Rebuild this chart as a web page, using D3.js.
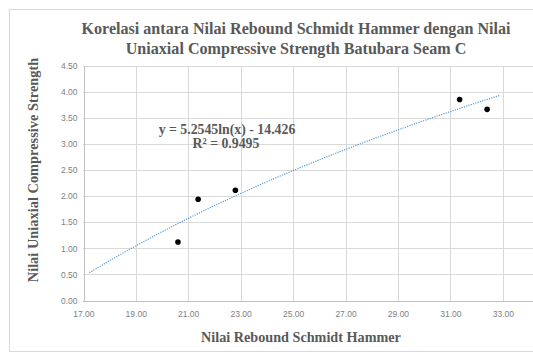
<!DOCTYPE html>
<html lang="en">
<head>
    <meta charset="UTF-8">
    <title>Korelasi Rebound Schmidt Hammer - UCS</title>
    <script src="https://d3js.org/d3.v7.min.js"></script>
</head>
<style>
    body { margin: 0; background: #fff; }
    .grid line { stroke: #d9d9d9; stroke-width: 1px; shape-rendering: crispEdges; }
    .axis path, .axis line { stroke: #bfbfbf; shape-rendering: crispEdges; }
    .axis text { font-family: "Liberation Sans", Arial, sans-serif; font-size: 8.5px; fill: #7f7f7f; }
    .title, .label, .eq { font-family: "Liberation Serif", "Times New Roman", serif; font-weight: bold; fill: #595959; }
    .trend { fill: none; stroke: #5b9bd5; stroke-width: 1.2px; stroke-dasharray: 1.2 1.2; }
</style>
<body>
    <svg id="chart"></svg>
    <script>
        // values
        var reboundValues = [20.61, 21.38, 22.80, 31.35, 32.40];
        var ucsValues = [1.12, 1.94, 2.11, 3.85, 3.66];
        var xTicks = [17, 19, 21, 23, 25, 27, 29, 31, 33];
        var yTicks = [0, 0.5, 1, 1.5, 2, 2.5, 3, 3.5, 4, 4.5];
        // logarithmic trendline as printed on the chart
        var trendCoef = [5.2545, -14.426];
        var trendRange = [17.23, 32.88];
        var titleLines = ["Korelasi antara Nilai Rebound Schmidt Hammer dengan Nilai",
                          "Uniaxial Compressive Strength Batubara Seam C"];

        var W = 533, H = 363;
        var svg = d3.select("#chart").attr("width", W).attr("height", H);

        // outer chart border (the right side is cropped in the original)
        svg.append("rect")
            .attr("x", 9.5).attr("y", 9.5)
            .attr("width", W).attr("height", 342)
            .attr("fill", "none").attr("stroke", "#d9d9d9");

        var x = d3.scaleLinear().domain([17, 35]).range([83.3, 555.3]);
        var y = d3.scaleLinear().domain([0, 4.5]).range([300.5, 65.5]);

        // gridlines
        var grid = svg.append("g").attr("class", "grid");
        grid.selectAll(".h").data(yTicks.slice(1)).enter().append("line")
            .attr("x1", x(17)).attr("x2", W)
            .attr("y1", function(d) { return Math.round(y(d)) + 0.5; })
            .attr("y2", function(d) { return Math.round(y(d)) + 0.5; });
        grid.selectAll(".v").data(xTicks.slice(1).concat([35])).enter().append("line")
            .attr("y1", y(4.5)).attr("y2", y(0))
            .attr("x1", function(d) { return Math.round(x(d)) + 0.5; })
            .attr("x2", function(d) { return Math.round(x(d)) + 0.5; });

        // axes
        svg.append("g").attr("class", "axis")
            .attr("transform", "translate(0," + (Math.round(y(0)) + 0.5) + ")")
            .call(d3.axisBottom(x).tickValues(xTicks).tickSize(0).tickPadding(9)
                .tickFormat(d3.format(".2f")))
            .call(function(g) { g.select(".domain").attr("d", "M" + x(17) + ",0H" + W); });
        svg.append("g").attr("class", "axis")
            .attr("transform", "translate(" + (Math.round(x(17)) + 0.5) + ",0)")
            .call(d3.axisLeft(y).tickValues(yTicks).tickSize(0).tickPadding(6)
                .tickFormat(d3.format(".2f")));

        // trendline
        var trendX = d3.range(trendRange[0], trendRange[1], 0.1).concat([trendRange[1]]);
        var line = d3.line()
            .x(function(d) { return x(d); })
            .y(function(d) { return y(trendCoef[0] * Math.log(d) + trendCoef[1]); });
        svg.append("path").attr("class", "trend").attr("d", line(trendX));

        // points
        svg.selectAll(".pt").data(reboundValues).enter().append("circle")
            .attr("cx", function(d) { return x(d); })
            .attr("cy", function(d, i) { return y(ucsValues[i]); })
            .attr("r", 2.8).attr("fill", "#000");

        // equation
        svg.append("text").attr("class", "eq").attr("x", 227).attr("y", 133.5)
            .attr("text-anchor", "middle").attr("font-size", "13.8px")
            .text("y = 5.2545ln(x) - 14.426");
        svg.append("text").attr("class", "eq").attr("x", 226).attr("y", 148)
            .attr("text-anchor", "middle").attr("font-size", "13.8px")
            .text("R² = 0.9495");

        // titles
        svg.selectAll(".title").data(titleLines).enter().append("text")
            .attr("class", "title").attr("x", 296)
            .attr("y", function(d, i) { return 33.5 + i * 20; })
            .attr("text-anchor", "middle").attr("font-size", "16.1px")
            .text(function(d) { return d; });
        svg.append("text").attr("class", "label")
            .attr("x", 301).attr("y", 342).attr("text-anchor", "middle")
            .attr("font-size", "14.2px").text("Nilai Rebound Schmidt Hammer");
        svg.append("text").attr("class", "label")
            .attr("transform", "translate(38,170) rotate(-90)")
            .attr("text-anchor", "middle").attr("font-size", "14.4px")
            .text("Nilai Uniaxial Compressive Strength");
    </script>
</body>
</html>
